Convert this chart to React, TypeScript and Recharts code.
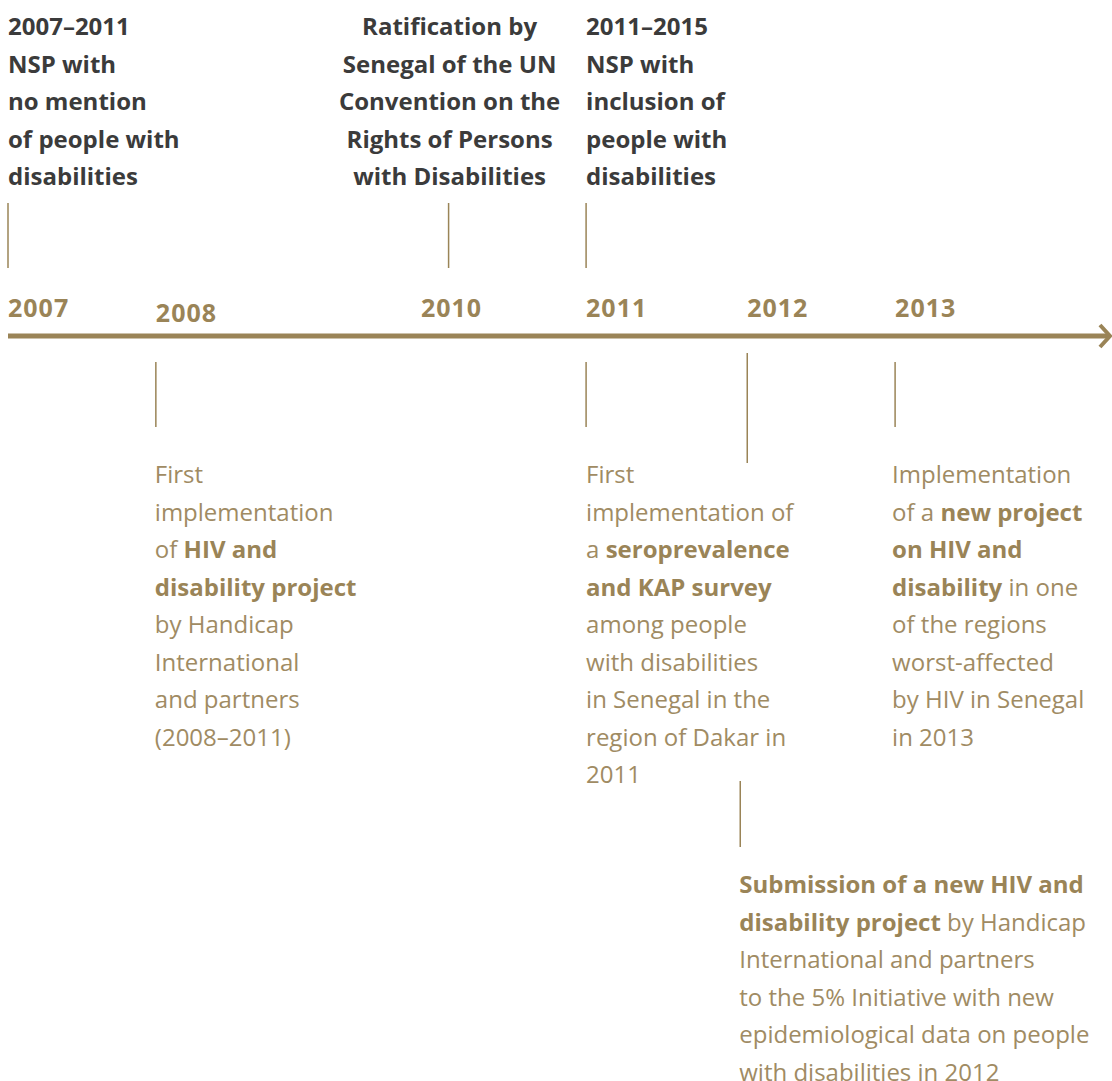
import React from 'react';
import { ScatterChart, Scatter, XAxis, YAxis, ReferenceDot } from 'recharts';

// positions along the timeline, in (fractional) years
const yearTicks = [2007, 2008, 2010, 2010.91, 2012, 2013];
const yearLabels = ['2007', '2008', '2010', '2011', '2012', '2013'];
const timelineEnd = 2014.44;

const aboveYears = [2007, 2009.98, 2010.91];
const aboveTexts = [
  ['2007–2011', 'NSP with', 'no mention', 'of people with', 'disabilities'],
  ['Ratification by', 'Senegal of the UN', 'Convention on the', 'Rights of Persons', 'with Disabilities'],
  ['2011–2015', 'NSP with', 'inclusion of', 'people with', 'disabilities'],
];

const belowYears = [2008, 2010.91, 2012, 2013];
const belowTexts = [
  ['First', 'implementation', 'of **HIV and**', '**disability project**', 'by Handicap', 'International', 'and partners', '(2008–2011)'],
  ['First', 'implementation of', 'a **seroprevalence**', '**and KAP survey**', 'among people', 'with disabilities', 'in Senegal in the', 'region of Dakar in', '2011'],
  ['**Submission of a new HIV and**', '**disability project** by Handicap', 'International and partners', 'to the 5% Initiative with new', 'epidemiological data on people', 'with disabilities in 2012'],
  ['Implementation', 'of a **new project**', '**on HIV and**', '**disability** in one', 'of the regions', 'worst-affected', 'by HIV in Senegal', 'in 2013'],
];

const aboveData = aboveYears.map((year, i) => ({ year, y: 0, i }));
const belowData = belowYears.map((year, i) => ({ year, y: 0, i }));

const FONT = "'Open Sans', sans-serif";
const GOLD = '#9a8457';
const GOLD_TEXT = '#a08b63';
const DARK = '#3b3b3b';
const LINE_H = 37.5;

const aboveAnchor = ['start', 'middle', 'start'];
const aboveDx = [0, 1, 0];

const belowLayout = [
  { top: 26, bottom: 91, text: 147, dx: -1 },
  { top: 26, bottom: 91, text: 147, dx: 0 },
  { top: 17, bottom: 127, text: 557, dx: -8, extra: { dx: -7, top: 445, bottom: 511 } },
  { top: 26, bottom: 91, text: 147, dx: -3 },
];

function RichLine({ x, y, line, anchor, color, bold }: any) {
  const parts = line.split('**');
  return (
    <text x={x} y={y} textAnchor={anchor} fontFamily={FONT} fontSize={24} style={{ whiteSpace: 'pre' }}>
      {parts.map((p: string, k: number) =>
        p ? (
          <tspan key={k} fontWeight={bold || k % 2 ? 700 : 400} fill={bold ? color : k % 2 ? GOLD : color}>
            {p}
          </tspan>
        ) : null
      )}
    </text>
  );
}

function AboveMark(props: any) {
  const { cx, cy, payload } = props;
  const i = payload.i;
  const lines = aboveTexts[i];
  return (
    <g>
      <line x1={cx} x2={cx} y1={cy - 133} y2={cy - 68} stroke={GOLD} strokeWidth={1.5} />
      {lines.map((l, k) => (
        <RichLine key={k} x={cx + aboveDx[i]} y={cy - 301 + k * LINE_H} line={l} anchor={aboveAnchor[i]} color={DARK} bold />
      ))}
    </g>
  );
}

function BelowMark(props: any) {
  const { cx, cy, payload } = props;
  const i = payload.i;
  const lay = belowLayout[i];
  const lines = belowTexts[i];
  return (
    <g>
      <line x1={cx} x2={cx} y1={cy + lay.top} y2={cy + lay.bottom} stroke={GOLD} strokeWidth={1.5} />
      {lay.extra && (
        <line
          x1={cx + lay.extra.dx}
          x2={cx + lay.extra.dx}
          y1={cy + lay.extra.top}
          y2={cy + lay.extra.bottom}
          stroke={GOLD}
          strokeWidth={1.5}
        />
      )}
      {lines.map((l, k) => (
        <RichLine key={k} x={cx + lay.dx} y={cy + lay.text + k * LINE_H} line={l} anchor="start" color={GOLD_TEXT} />
      ))}
    </g>
  );
}

function YearTick(props: any) {
  const { x, y, payload, index } = props;
  const label = yearLabels[index] ?? String(payload.value);
  const anchor = label === '2010' ? 'middle' : 'start';
  const shift = label === '2008' ? 5 : 0;
  return (
    <text
      x={x}
      y={y - 19 + shift}
      textAnchor={anchor}
      fontFamily={FONT}
      fontWeight={700}
      fontSize={25}
      letterSpacing={1}
      fill={GOLD}
    >
      {label}
    </text>
  );
}

function Arrow(props: any) {
  const { cx, cy } = props;
  return (
    <polyline
      points={`${cx - 8},${cy - 11} ${cx + 2},${cy} ${cx - 8},${cy + 11}`}
      fill="none"
      stroke={GOLD}
      strokeWidth={4}
    />
  );
}

export default function App() {
  return (
    <div style={{ position: 'absolute', left: 0, top: 0, width: 1112, height: 1081, background: '#fff' }}>
      <ScatterChart width={1112} height={1081} margin={{ top: 276, right: 4, bottom: 0, left: 8 }}>
        <XAxis
          xAxisId={0}
          type="number"
          dataKey="year"
          orientation="top"
          height={60}
          domain={[2007, timelineEnd]}
          ticks={yearTicks}
          interval={0}
          tickLine={false}
          tickSize={0}
          tickMargin={0}
          axisLine={{ stroke: GOLD, strokeWidth: 5 }}
          tick={<YearTick />}
        />
        <YAxis yAxisId={0} type="number" dataKey="y" domain={[0, 1]} reversed hide />
        <Scatter data={aboveData} isAnimationActive={false} shape={(p: any) => <AboveMark {...p} />} />
        <Scatter data={belowData} isAnimationActive={false} shape={(p: any) => <BelowMark {...p} />} />
        <ReferenceDot x={timelineEnd} y={0} r={0} shape={(p: any) => <Arrow {...p} />} />
      </ScatterChart>
    </div>
  );
}
